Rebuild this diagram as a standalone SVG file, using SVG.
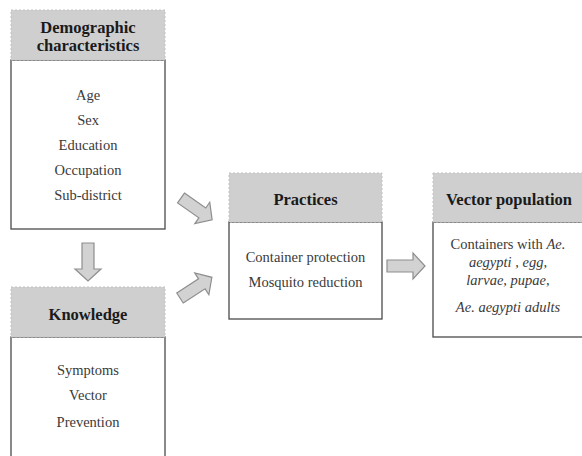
<svg xmlns="http://www.w3.org/2000/svg" width="582" height="456" viewBox="0 0 582 456">
<style>
.hd{fill:#cfcfcf;stroke:#c2c2c2;stroke-width:1;stroke-dasharray:2 2}
.bd{fill:#fff;stroke:#4a4a4a;stroke-width:1.3}
.ht{font-family:"Liberation Serif","Times New Roman",serif;font-weight:bold;font-size:16.5px;fill:#1a1a1a;text-anchor:middle}
.it{font-family:"Liberation Serif","Times New Roman",serif;font-size:14.5px;fill:#3a3a3a;text-anchor:middle}
.ar{fill:#d2d2d2;stroke:#8e8e8e;stroke-width:1.2;stroke-linejoin:miter}
</style>
<defs>
<path id="arr" d="M0,-6 L26,-6 L26,-13 L38,0 L26,13 L26,6 L0,6 Z"/>
</defs>
<rect width="582" height="456" fill="#fff"/>
<g id="demographic">
<rect class="bd" x="11" y="60" width="154" height="169"/>
<rect class="hd" x="11" y="10" width="154" height="50"/>
<text class="ht" x="88" y="33" font-size="15.5">Demographic</text>
<text class="ht" x="88" y="51" font-size="15.5">characteristics</text>
<text class="it" x="88" y="100">Age</text>
<text class="it" x="88" y="125">Sex</text>
<text class="it" x="88" y="150">Education</text>
<text class="it" x="88" y="175">Occupation</text>
<text class="it" x="88" y="200">Sub-district</text>
</g>
<g id="knowledge">
<rect class="bd" x="11" y="337" width="154" height="130"/>
<rect class="hd" x="11" y="287" width="154" height="50"/>
<text class="ht" x="88" y="320">Knowledge</text>
<text class="it" x="88" y="375">Symptoms</text>
<text class="it" x="88" y="400">Vector</text>
<text class="it" x="88" y="427">Prevention</text>
</g>
<g id="practices">
<rect class="bd" x="229" y="222" width="153" height="97"/>
<rect class="hd" x="229" y="173" width="153" height="49"/>
<text class="ht" x="305.5" y="205">Practices</text>
<text class="it" x="305.5" y="262">Container protection</text>
<text class="it" x="305.5" y="287">Mosquito reduction</text>
</g>
<g id="vector-population">
<rect class="bd" x="433" y="222" width="160" height="115"/>
<rect class="hd" x="433" y="173" width="160" height="49"/>
<text class="ht" x="509" y="205">Vector population</text>
<text class="it" x="508" y="249">Containers with <tspan font-style="italic">Ae.</tspan></text>
<text class="it" x="508" y="267" font-style="italic">aegypti , egg,</text>
<text class="it" x="508" y="285" font-style="italic">larvae, pupae,</text>
<text class="it" x="508" y="312" font-style="italic">Ae. aegypti adults</text>
</g>
<g id="connectors">
<use href="#arr" class="ar" transform="translate(88,243) rotate(90)"/>
<use href="#arr" class="ar" transform="translate(181,198) rotate(35)"/>
<use href="#arr" class="ar" transform="translate(180,298) rotate(-33)"/>
<use href="#arr" class="ar" transform="translate(387,266)"/>
</g>
</svg>
